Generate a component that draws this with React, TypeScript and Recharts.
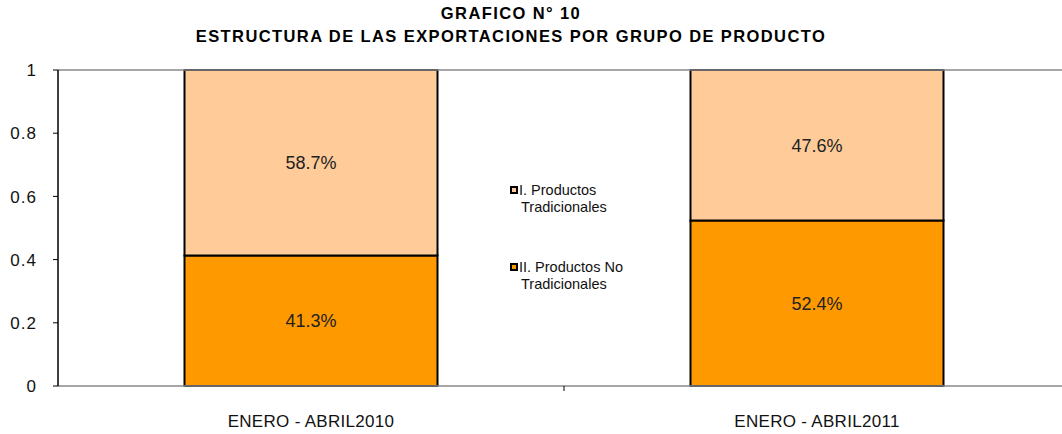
import { BarChart, Bar, XAxis, YAxis, LabelList, ReferenceLine } from 'recharts';

const periods = ['ENERO - ABRIL2010', 'ENERO - ABRIL2011'];
const tradicionales = [0.587, 0.476];
const noTradicionales = [0.413, 0.524];
const yTicks = [0, 0.2, 0.4, 0.6, 0.8, 1];

const series = [
  { key: 'trad', name: 'I. Productos Tradicionales', lines: ['I. Productos', 'Tradicionales'], color: '#FFCC99' },
  { key: 'noTrad', name: 'II. Productos No Tradicionales', lines: ['II. Productos No', 'Tradicionales'], color: '#FF9900' },
];

const data = periods.map((p, i) => ({
  period: p,
  trad: tradicionales[i],
  noTrad: noTradicionales[i],
}));

const font = '"Liberation Sans", Arial, sans-serif';

const pct = (v: any) => `${(Number(v) * 100).toFixed(1)}%`;

// category label + the small tick between the two categories
const CategoryTick = (props: any) => {
  const { x, y, payload, index } = props;
  const half = payload.offset || 0;
  return (
    <g>
      {index === 0 && <line x1={x + half} x2={x + half} y1={y} y2={y + 5} stroke="#000" />}
      <text x={x} y={y + 41} textAnchor="middle" fontSize={17} letterSpacing={0.3} fill="#111" fontFamily={font}>
        {payload.value}
      </text>
    </g>
  );
};

const ValueTick = (props: any) => {
  const { x, y, payload } = props;
  return (
    <text x={x} y={y} dy="0.36em" textAnchor="end" fontSize={17} letterSpacing={1} fill="#111" fontFamily={font}>
      {payload.value}
    </text>
  );
};

const LegendBox = () => (
  <div
    style={{
      position: 'absolute',
      left: 510,
      top: 182,
      width: 130,
      fontFamily: font,
      fontSize: 14.5,
      color: '#111',
      lineHeight: '16.5px',
    }}
  >
    {series.map((s, i) => (
      <div key={s.key} style={{ display: 'flex', alignItems: 'flex-start', marginBottom: i === 0 ? 44 : 0 }}>
        <span
          style={{
            display: 'inline-block',
            width: 4,
            height: 4,
            border: '2px solid #000',
            background: s.color,
            marginTop: 4,
            marginRight: 1,
            flexShrink: 0,
          }}
        />
        <div>
          <div>{s.lines[0]}</div>
          <div style={{ marginLeft: 2 }}>{s.lines[1]}</div>
        </div>
      </div>
    ))}
  </div>
);

export default function App() {
  return (
    <div style={{ position: 'absolute', left: 0, top: 0, width: 1062, height: 434, overflow: 'hidden', background: '#fff' }}>
      <BarChart
        width={1080}
        height={434}
        data={data}
        margin={{ top: 70, right: 10, bottom: 0, left: 0 }}
        barCategoryGap="25%"
        style={{ position: 'absolute', left: 0, top: 0 }}
      >
        <XAxis
          dataKey="period"
          axisLine={{ stroke: '#888', strokeWidth: 1.5 }}
          tickLine={false}
          tickSize={0}
          tickMargin={0}
          height={48}
          interval={0}
          tick={<CategoryTick />}
        />
        <YAxis
          domain={[0, 1]}
          ticks={yTicks}
          width={58}
          axisLine={{ stroke: '#000', strokeWidth: 1.5 }}
          tickLine={{ stroke: '#000' }}
          tickSize={5}
          tickMargin={16}
          tick={<ValueTick />}
        />
        <ReferenceLine y={1} stroke="#888" strokeWidth={1.5} />
        <Bar dataKey="noTrad" name={series[1].name} stackId="a" fill={series[1].color} stroke="#000" strokeWidth={2} isAnimationActive={false}>
          <LabelList dataKey="noTrad" position="center" formatter={pct} fill="#222" fontSize={18} fontFamily={font} />
        </Bar>
        <Bar dataKey="trad" name={series[0].name} stackId="a" fill={series[0].color} stroke="#000" strokeWidth={2} isAnimationActive={false}>
          <LabelList dataKey="trad" position="center" formatter={pct} fill="#222" fontSize={18} fontFamily={font} />
        </Bar>
      </BarChart>
      <LegendBox />
      <div
        style={{
          position: 'absolute',
          top: 2,
          left: 0,
          width: 1022,
          textAlign: 'center',
          fontFamily: font,
          fontWeight: 'bold',
          fontSize: 16.5,
          letterSpacing: 1.4,
          lineHeight: '23px',
          color: '#000',
        }}
      >
        <div>GRAFICO N° 10</div>
        <div>ESTRUCTURA DE LAS EXPORTACIONES POR GRUPO DE PRODUCTO</div>
      </div>
    </div>
  );
}
